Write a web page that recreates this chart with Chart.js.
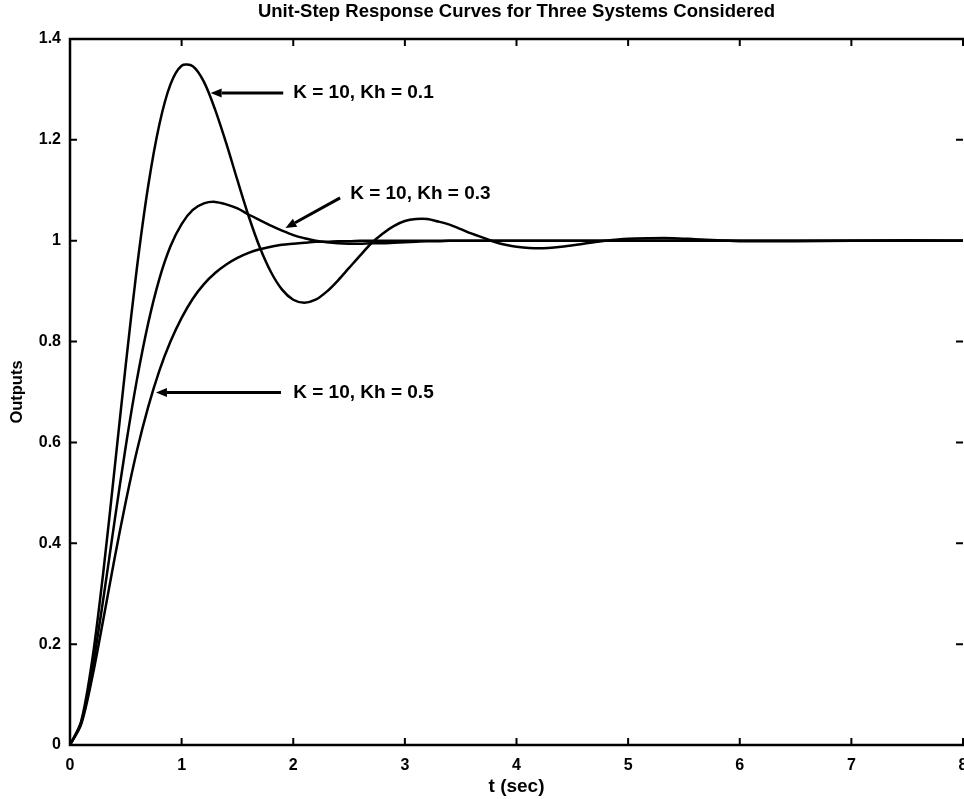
<!DOCTYPE html>
<html>
<head>
<meta charset="utf-8">
<title>Unit-Step Response Curves</title>
<script src="https://cdn.jsdelivr.net/npm/chart.js@4.4.1/dist/chart.umd.min.js"></script>
<style>
  html, body { margin: 0; padding: 0; background: #fff; }
  canvas { display: block; }
</style>
</head>
<body>
<canvas id="stepChart" width="964" height="799"></canvas>
<script>
  // time axis (sec) shared by the three curves
  const tValues = [
    0, 0.1, 0.2, 0.3, 0.4, 0.5, 0.6, 0.7, 0.8, 0.9, 1.0,
    1.1, 1.2, 1.3, 1.4, 1.5, 1.6, 1.7, 1.8, 1.9, 2.0,
    2.1, 2.2, 2.3, 2.4, 2.5, 2.6, 2.7, 2.8, 2.9, 3.0,
    3.1, 3.2, 3.3, 3.4, 3.5, 3.6, 3.7, 3.8, 3.9, 4.0,
    4.2, 4.4, 4.6, 4.8, 5.0, 5.2, 5.4, 5.6, 5.8, 6.0,
    6.5, 7.0, 7.5, 8.0
  ];

  // K = 10, Kh = 0.1
  const outKh01 = [
    0, 0.047, 0.170, 0.346, 0.549, 0.755, 0.947, 1.108, 1.230, 1.310, 1.347,
    1.346, 1.315, 1.260, 1.193, 1.120, 1.049, 0.987, 0.938, 0.903, 0.883,
    0.877, 0.883, 0.899, 0.921, 0.946, 0.971, 0.995, 1.014, 1.029, 1.039,
    1.043, 1.043, 1.038, 1.032, 1.023, 1.014, 1.006, 0.998, 0.992, 0.988,
    0.985, 0.988, 0.994, 1.000, 1.004, 1.005, 1.005, 1.003, 1.001, 0.999,
    0.999, 1.000, 1.001, 1.000
  ];

  // K = 10, Kh = 0.3
  const outKh03 = [
    0, 0.044, 0.151, 0.292, 0.445, 0.593, 0.725, 0.836, 0.924, 0.989, 1.033,
    1.061, 1.074, 1.077, 1.072, 1.064, 1.052, 1.041, 1.030, 1.020, 1.011,
    1.005, 1.000, 0.997, 0.995, 0.994, 0.994, 0.995, 0.995, 0.996, 0.997,
    0.998, 0.999, 0.999, 1.000, 1.000, 1.000, 1.000, 1.000, 1.000, 1.000,
    1.000, 1.000, 1.000, 1.000, 1.000, 1.000, 1.000, 1.000, 1.000, 1.000,
    1.000, 1.000, 1.000, 1.000
  ];

  // K = 10, Kh = 0.5
  const outKh05 = [
    0, 0.041, 0.135, 0.251, 0.371, 0.483, 0.584, 0.670, 0.742, 0.800, 0.847,
    0.885, 0.914, 0.936, 0.953, 0.966, 0.976, 0.983, 0.988, 0.992, 0.994,
    0.996, 0.998, 0.998, 0.999, 0.999, 1.000, 1.000, 1.000, 1.000, 1.000,
    1.000, 1.000, 1.000, 1.000, 1.000, 1.000, 1.000, 1.000, 1.000, 1.000,
    1.000, 1.000, 1.000, 1.000, 1.000, 1.000, 1.000, 1.000, 1.000, 1.000,
    1.000, 1.000, 1.000, 1.000
  ];

  const seriesLabels = ['K = 10, Kh = 0.1', 'K = 10, Kh = 0.3', 'K = 10, Kh = 0.5'];
  const seriesValues = [outKh01, outKh03, outKh05];

  const xTicks = [0, 1, 2, 3, 4, 5, 6, 7, 8];
  const yTicks = [0, 0.2, 0.4, 0.6, 0.8, 1.0, 1.2, 1.4];

  // arrow callouts, in data units (text anchor, arrow tail, arrow head)
  const callouts = [
    { text: seriesLabels[0], tx: 2.00, ty: 1.293, fx: 1.91, fy: 1.293, hx: 1.26, hy: 1.293 },
    { text: seriesLabels[1], tx: 2.51, ty: 1.093, fx: 2.42, fy: 1.085, hx: 1.93, hy: 1.025 },
    { text: seriesLabels[2], tx: 2.00, ty: 0.699, fx: 1.89, fy: 0.699, hx: 0.77, hy: 0.699 }
  ];

  const FONT = '"Liberation Sans", Arial, Helvetica, sans-serif';

  const framePlugin = {
    id: 'frame',
    afterDraw(chart) {
      const ctx = chart.ctx;
      const area = chart.chartArea;
      const xs = chart.scales.x;
      const ys = chart.scales.y;
      ctx.save();
      ctx.strokeStyle = '#000';
      ctx.fillStyle = '#000';
      ctx.lineCap = 'square';

      // axes box (left, bottom, top)
      ctx.lineWidth = 2.5;
      ctx.beginPath();
      ctx.moveTo(area.right + 2, area.top);
      ctx.lineTo(area.left, area.top);
      ctx.lineTo(area.left, area.bottom);
      ctx.lineTo(area.right + 2, area.bottom);
      ctx.stroke();

      // inward tick marks
      const tl = 7;
      ctx.lineWidth = 2;
      ctx.lineCap = 'butt';
      ctx.beginPath();
      xTicks.forEach(v => {
        const px = xs.getPixelForValue(v);
        if (v === 0) return;
        ctx.moveTo(px, area.bottom);
        ctx.lineTo(px, area.bottom - tl);
        ctx.moveTo(px, area.top);
        ctx.lineTo(px, area.top + tl);
      });
      yTicks.forEach(v => {
        const py = ys.getPixelForValue(v);
        if (v === 0 || v === 1.4) return;
        ctx.moveTo(area.left, py);
        ctx.lineTo(area.left + tl, py);
        ctx.moveTo(area.right, py);
        ctx.lineTo(area.right - tl, py);
      });
      ctx.stroke();

      // callouts
      ctx.font = 'bold 19px ' + FONT;
      ctx.textBaseline = 'middle';
      ctx.textAlign = 'left';
      callouts.forEach(c => {
        const fx = xs.getPixelForValue(c.fx), fy = ys.getPixelForValue(c.fy);
        const hx = xs.getPixelForValue(c.hx), hy = ys.getPixelForValue(c.hy);
        const ang = Math.atan2(hy - fy, hx - fx);
        const headLen = 11, headW = 4.5;
        const bx = hx - headLen * Math.cos(ang), by = hy - headLen * Math.sin(ang);
        ctx.lineWidth = 3;
        ctx.beginPath();
        ctx.moveTo(fx, fy);
        ctx.lineTo(bx, by);
        ctx.stroke();
        ctx.beginPath();
        ctx.moveTo(hx, hy);
        ctx.lineTo(bx + headW * Math.sin(ang), by - headW * Math.cos(ang));
        ctx.lineTo(bx - headW * Math.sin(ang), by + headW * Math.cos(ang));
        ctx.closePath();
        ctx.fill();
        ctx.fillText(c.text, xs.getPixelForValue(c.tx), ys.getPixelForValue(c.ty));
      });
      ctx.restore();
    }
  };

  const datasets = seriesValues.map((vals, i) => ({
    label: seriesLabels[i],
    data: tValues.map((t, j) => ({ x: t, y: vals[j] })),
    borderColor: '#000',
    borderWidth: 2.5,
    pointRadius: 0,
    fill: false,
    tension: 0.3
  }));

  new Chart(document.getElementById('stepChart').getContext('2d'), {
    type: 'line',
    data: { datasets: datasets },
    options: {
      responsive: false,
      animation: false,
      layout: { padding: { left: 0, right: 1, top: 0, bottom: 0 } },
      plugins: {
        legend: { display: false },
        tooltip: { enabled: false },
        title: {
          display: true,
          fullSize: false,
          text: 'Unit-Step Response Curves for Three Systems Considered',
          color: '#000',
          font: { family: FONT, size: 18.5, weight: 'bold' },
          padding: { top: 1, bottom: 15.8 }
        }
      },
      scales: {
        x: {
          type: 'linear',
          min: 0,
          max: 8,
          afterBuildTicks: s => { s.ticks = xTicks.map(v => ({ value: v })); },
          ticks: { color: '#000', font: { family: FONT, size: 16, weight: 'bold' }, padding: 11, maxRotation: 0 },
          grid: { display: false, drawTicks: false },
          border: { display: false },
          title: { display: true, text: 't (sec)', color: '#000', font: { family: FONT, size: 19, weight: 'bold' }, padding: { top: 0, bottom: 1 } },
          afterFit: s => { s.height = 54; s.paddingLeft = 0; s.paddingRight = 0; }
        },
        y: {
          min: 0,
          max: 1.4,
          afterBuildTicks: s => { s.ticks = yTicks.map(v => ({ value: v })); },
          ticks: {
            color: '#000',
            font: { family: FONT, size: 16, weight: 'bold' },
            padding: 9,
            callback: v => String(Number(v.toFixed(1)))
          },
          grid: { display: false, drawTicks: false },
          border: { display: false },
          title: { display: true, text: 'Outputs', color: '#000', font: { family: FONT, size: 16.5, weight: 'bold' }, padding: { top: 8, bottom: 8 } },
          afterFit: s => { s.width = 70; s.paddingTop = 0; s.paddingBottom = 0; }
        }
      }
    },
    plugins: [framePlugin]
  });
</script>
</body>
</html>
